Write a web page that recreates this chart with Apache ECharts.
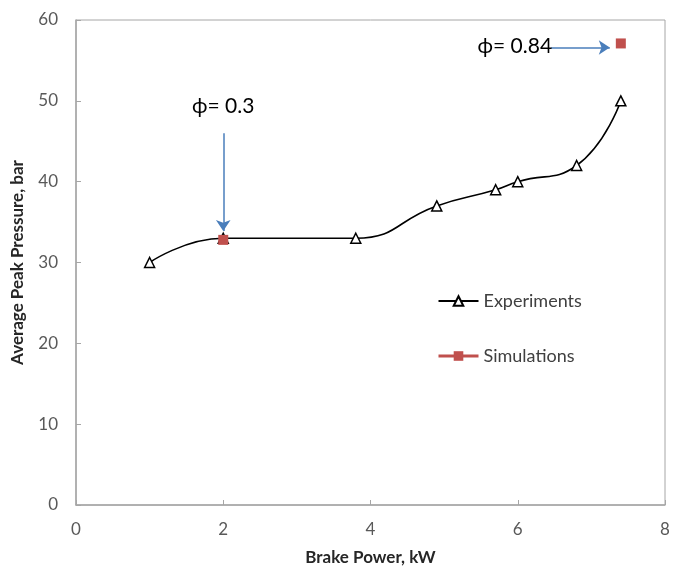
<!DOCTYPE html>
<html>
<head>
<meta charset="utf-8">
<script src="https://cdn.jsdelivr.net/npm/echarts@6/dist/echarts.min.js"></script>
<style>
  html, body { margin: 0; padding: 0; background: #fff; }
  #chart { width: 673px; height: 571px; }
</style>
</head>
<body>
<div id="chart"></div>
<script>
// Experiments (brake power kW, peak pressure bar)
const expPower = [1, 2, 3.8, 4.9, 5.7, 6, 6.8, 7.4];
const expPressure = [30, 33, 33, 37, 39, 40, 42, 50];

// Simulations
const simPower = [2, 7.4];
const simPressure = [32.8, 57.1];

// Annotation labels and arrows (in data coordinates)
const noteLabels = ['ϕ= 0.3', 'ϕ= 0.84'];
const noteTextPos = [[2, 49.3], [5.96, 56.8]];
const noteArrows = [
    [[2, 46.0], [2, 33.9]],
    [[6.45, 56.6], [7.25, 56.6]]
];

const font = 'Lato, "Open Sans", sans-serif';

const chart = echarts.init(document.getElementById('chart'));
chart.setOption({
    animation: false,
    textStyle: { fontFamily: font },
    grid: {
        left: 76, right: 8, top: 20, bottom: 66,
        show: true, borderColor: '#a6a6a6', borderWidth: 1
    },
    legend: {
        orient: 'vertical',
        left: 432, top: 287,
        itemWidth: 40, itemHeight: 12, itemGap: 37,
        textStyle: { fontSize: 18, color: '#404040', fontFamily: font },
        data: [
            { name: 'Experiments' },
            { name: 'Simulations', lineStyle: { color: '#C0504D', width: 3, opacity: 1 } }
        ]
    },
    xAxis: {
        type: 'value', min: 0, max: 8, interval: 2,
        name: 'Brake Power, kW', nameLocation: 'middle', nameGap: 44,
        nameTextStyle: { fontSize: 17, fontWeight: 'bold', color: '#262626', fontFamily: font },
        axisLine: { lineStyle: { color: '#a6a6a6', width: 1.5 } },
        axisTick: { inside: true, length: 5, lineStyle: { color: '#a6a6a6' } },
        axisLabel: { fontSize: 17, color: '#595959', margin: 16 },
        splitLine: { show: false }
    },
    yAxis: {
        type: 'value', min: 0, max: 60, interval: 10,
        name: 'Average Peak Pressure, bar', nameLocation: 'middle', nameGap: 50,
        nameTextStyle: { fontSize: 17, fontWeight: 'bold', color: '#262626', fontFamily: font },
        axisLine: { show: true, lineStyle: { color: '#a6a6a6', width: 1.5 } },
        axisTick: { show: true, inside: true, length: 5, lineStyle: { color: '#a6a6a6' } },
        axisLabel: { fontSize: 17, color: '#595959', margin: 18 },
        splitLine: { show: false }
    },
    series: [
        {
            name: 'Experiments',
            type: 'line',
            smooth: 0.5,
            data: expPower.map((x, i) => [x, expPressure[i]]),
            symbol: 'triangle',
            symbolSize: 10,
            lineStyle: { color: '#000', width: 1.6 },
            itemStyle: { color: '#fff', borderColor: '#000', borderWidth: 1.5 },
            z: 2
        },
        {
            name: 'Simulations',
            type: 'line',
            data: simPower.map((x, i) => [x, simPressure[i]]),
            symbol: 'rect',
            symbolSize: 10,
            lineStyle: { opacity: 0, width: 0 },
            itemStyle: { color: '#C0504D' },
            z: 3,
            markLine: {
                silent: true,
                symbol: ['none', 'arrow'],
                symbolSize: 11,
                lineStyle: { color: '#4A7EBB', width: 1.5, type: 'solid', opacity: 1 },
                label: { show: false },
                data: noteArrows.map(a => [{ coord: a[0] }, { coord: a[1] }])
            },
            markPoint: {
                silent: true,
                symbol: 'circle',
                symbolSize: 1,
                itemStyle: { color: 'rgba(0,0,0,0)' },
                label: {
                    show: true, position: 'inside',
                    fontSize: 21, color: '#000', fontFamily: font,
                    formatter: p => p.name
                },
                data: noteLabels.map((t, i) => ({ name: t, coord: noteTextPos[i] }))
            }
        }
    ]
});
</script>
</body>
</html>
